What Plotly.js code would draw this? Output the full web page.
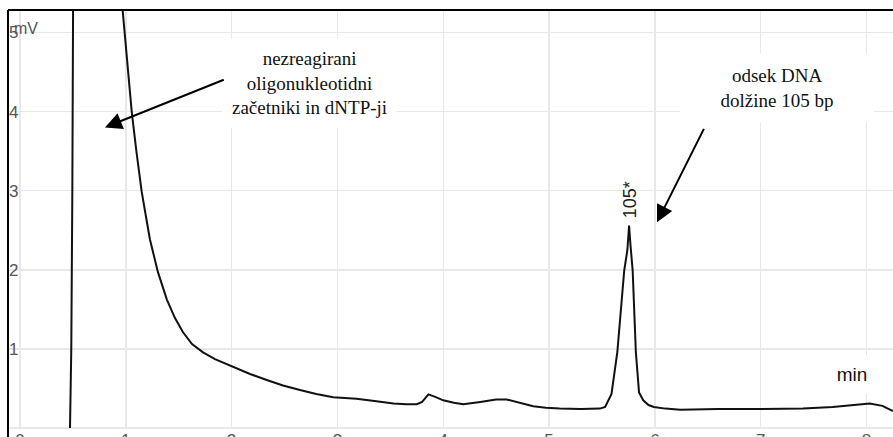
<!DOCTYPE html>
<html>
<head>
<meta charset="utf-8">
<script src="https://cdn.plot.ly/plotly-3.0.1.min.js"></script>
<style>
html,body{margin:0;padding:0;overflow:hidden;background:#fff;}
#chart{width:893px;height:437px;}
</style>
</head>
<body>
<div id="chart"></div>
<script>
// Retention time (min) and detector signal (mV)
const time = [0.465,0.473,0.485,0.495,0.51,0.93,0.971,1.011,1.056,1.101,1.150,1.191,1.229,1.304,1.389,1.465,1.541,1.626,1.730,1.843,2.013,2.174,2.332,2.486,2.646,2.80,2.96,3.07,3.18,3.35,3.53,3.65,3.75,3.80,3.86,3.93,4.0,4.10,4.19,4.35,4.5,4.6,4.72,4.85,4.97,5.10,5.30,5.48,5.53,5.59,5.645,5.68,5.71,5.74,5.756,5.77,5.79,5.82,5.85,5.89,5.94,5.99,6.1,6.24,6.6,7.0,7.4,7.68,7.85,8.03,8.15,8.25];
const signal = [-0.05,0.0,1.0,3.0,8.0,6.5,5.27,4.65,4.0,3.49,2.99,2.67,2.38,1.97,1.62,1.39,1.21,1.06,0.957,0.87,0.775,0.683,0.607,0.537,0.48,0.43,0.39,0.38,0.37,0.34,0.31,0.30,0.30,0.33,0.425,0.39,0.35,0.32,0.30,0.33,0.36,0.36,0.32,0.275,0.255,0.245,0.24,0.245,0.265,0.43,0.96,1.5,1.99,2.25,2.56,2.3,1.99,0.96,0.45,0.35,0.29,0.265,0.245,0.23,0.24,0.24,0.245,0.265,0.29,0.31,0.28,0.215];
const xTicks = [0,1,2,3,4,5,6,7,8];
const yTicks = [0,1,2,3,4,5];
const yTickText = ["", "1", "2", "3", "4", "5"];
const peakLabel = {time: 5.766, text: "105*"};

const sans = "Liberation Sans, Arial, sans-serif";
const serif = "Liberation Serif, Times New Roman, serif";

const trace = {
  x: time, y: signal, type: "scatter", mode: "lines",
  line: {color: "#111111", width: 2},
  hoverinfo: "skip", showlegend: false
};

const layout = {
  width: 893, height: 437,
  margin: {l: 8, r: 0, t: 10, b: 9},
  paper_bgcolor: "#ffffff", plot_bgcolor: "#ffffff",
  showlegend: false,
  xaxis: {
    range: [-0.113, 8.25],
    tickmode: "array",
    tickvals: xTicks,
    ticktext: xTicks.map(String),
    showgrid: true, gridcolor: "#e8e8e8", gridwidth: 1.5,
    zeroline: false, showline: false,
    ticks: "",
    ticklabelstandoff: 0,
    tickfont: {family: sans, size: 17, color: "#555555"}
  },
  yaxis: {
    range: [0, 5.284],
    tickmode: "array",
    tickvals: yTicks,
    ticktext: yTickText,
    anchor: "free", position: 0, side: "right",
    showgrid: true, gridcolor: "#e8e8e8", gridwidth: 1.5,
    zeroline: true, zerolinecolor: "#e8e8e8", zerolinewidth: 1.5,
    showline: false,
    ticks: "",
    ticklabelstandoff: 0,
    tickfont: {family: sans, size: 17, color: "#555555"}
  },
  shapes: [
    {type: "line", xref: "paper", yref: "paper", x0: 0, x1: 1, y0: 1, y1: 1,
     line: {color: "#000000", width: 2}},
    {type: "line", xref: "paper", yref: "paper", x0: 0, x1: 0, y0: -0.05, y1: 1,
     line: {color: "#000000", width: 2}}
  ],
  annotations: [
    {xref: "paper", yref: "paper", x: 0.005, y: 0.955, xanchor: "left", yanchor: "middle",
     text: "mV", showarrow: false, font: {family: sans, size: 16, color: "#555555"}},
    {xref: "x", yref: "y", x: 2.74, y: 4.36, text: "nezreagirani<br>oligonukleotidni<br>začetniki in dNTP-ji",
     showarrow: false, font: {family: serif, size: 19, color: "#111111"},
     bgcolor: "#ffffff", borderpad: 9},
    {xref: "x", yref: "y", x: 7.152, y: 4.30, text: "odsek DNA<br>dolžine 105 bp",
     showarrow: false, font: {family: serif, size: 19, color: "#111111"},
     bgcolor: "#ffffff", borderpad: 11, width: 170},
    {xref: "x", yref: "y", x: 7.864, y: 0.68, text: "min",
     showarrow: false, font: {family: sans, size: 19, color: "#111111"},
     bgcolor: "#ffffff", borderpad: 8, width: 60},
    {xref: "x", yref: "y", x: peakLabel.time, y: 2.88, text: peakLabel.text, textangle: -90,
     showarrow: false, font: {family: sans, size: 18, color: "#222222"}},
    {xref: "x", yref: "y", x: 0.803, y: 3.80, axref: "x", ayref: "y", ax: 1.94, ay: 4.41,
     text: "", showarrow: true, arrowhead: 2, arrowsize: 1.7, arrowwidth: 2, arrowcolor: "#000000", standoff: 0},
    {xref: "x", yref: "y", x: 6.02, y: 2.60, axref: "x", ayref: "y", ax: 6.47, ay: 3.80,
     text: "", showarrow: true, arrowhead: 2, arrowsize: 1.7, arrowwidth: 2, arrowcolor: "#000000", standoff: 0}
  ]
};

Plotly.newPlot("chart", [trace], layout, {staticPlot: true, displayModeBar: false});
</script>
</body>
</html>
